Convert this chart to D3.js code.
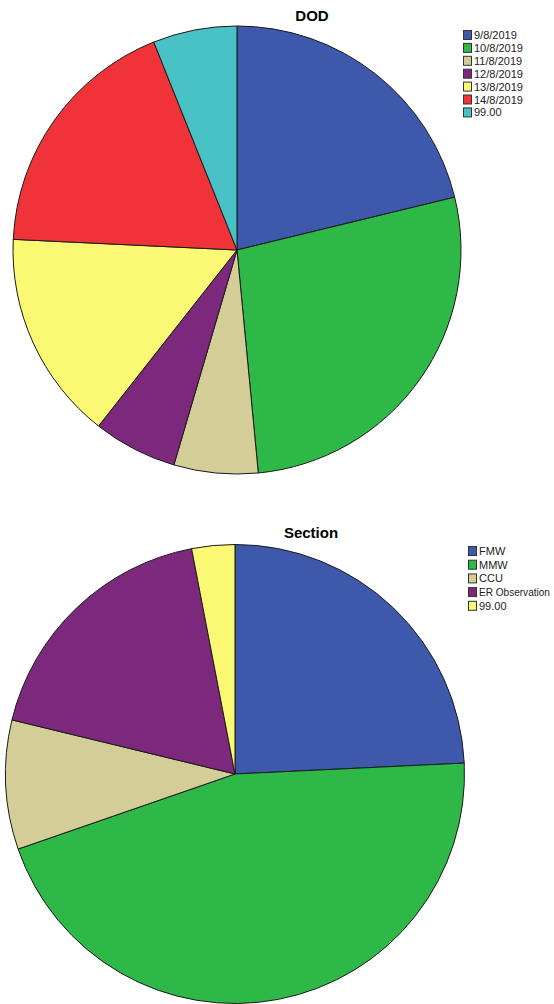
<!DOCTYPE html>
<html><head><meta charset="utf-8">
<script src="https://cdn.jsdelivr.net/npm/d3@7"></script>
<style>body{margin:0;background:#fff}svg{display:block}</style>
</head><body>
<script>
const dodCategories = ["9/8/2019","10/8/2019","11/8/2019","12/8/2019","13/8/2019","14/8/2019","99.00"];
const dodCounts = [7, 9, 2, 2, 5, 6, 2];
const dodColors = ["#3e58ac","#2eb848","#d3ce97","#7c287d","#fbf873","#ef3338","#48c2c5"];

const sectionCategories = ["FMW","MMW","CCU","ER Observation","99.00"];
const sectionCounts = [8, 15, 3, 6, 1];
const sectionColors = ["#3e58ac","#2eb848","#d3ce97","#7c287d","#fbf873"];

const W = 554, H = 1004;
const svg = d3.select("body").append("svg").attr("width", W).attr("height", H);

function drawPie(opt){
  const g = svg.append("g");
  g.append("text").attr("x", opt.titleX).attr("y", opt.titleY)
    .attr("text-anchor","middle").attr("font-family","Arial, Liberation Sans, sans-serif")
    .attr("font-weight","bold").attr("font-size",15).attr("fill","#000").text(opt.title);
  const pie = d3.pie().sort(null).value(d => d)(opt.values);
  const arc = d3.arc().innerRadius(0).outerRadius(opt.r);
  g.append("g").attr("transform", `translate(${opt.cx},${opt.cy})`)
    .selectAll("path").data(pie).join("path")
    .attr("d", arc).attr("fill", (d,i) => opt.colors[i])
    .attr("stroke","#1a1a1a").attr("stroke-width",1).attr("stroke-linejoin","round");
  const lg = g.append("g").attr("transform", `translate(${opt.lx},${opt.ly})`);
  const items = lg.selectAll("g").data(opt.cats).join("g")
    .attr("transform", (d,i) => `translate(0,${i*opt.step})`);
  items.append("rect").attr("x",0.5).attr("y",-4.5).attr("width",8).attr("height",9)
    .attr("fill", (d,i) => opt.colors[i]).attr("stroke","#333").attr("stroke-width",1);
  const maxW = W - opt.lx - 11 - 4;
  items.append("text").attr("x",11).attr("y",4)
    .attr("font-family","Arial, Liberation Sans, sans-serif").attr("font-size",11)
    .attr("fill","#222").text(d => d)
    .each(function(){
      const len = this.getComputedTextLength();
      if (len > maxW) d3.select(this).attr("font-size", (11 * maxW / len).toFixed(2));
    });
}

drawPie({title:"DOD", titleX:312, titleY:21, cx:237, cy:250, r:224,
  values:dodCounts, colors:dodColors, cats:dodCategories, lx:463, ly:35, step:12.9});
drawPie({title:"Section", titleX:311, titleY:538, cx:235, cy:774, r:229.5,
  values:sectionCounts, colors:sectionColors, cats:sectionCategories, lx:468, ly:551, step:13.7});
</script>
</body></html>
